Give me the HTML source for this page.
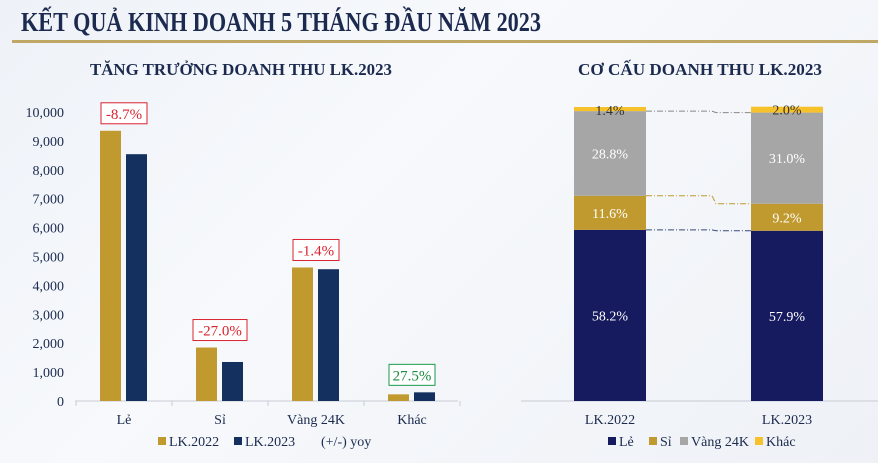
<!DOCTYPE html>
<html><head><meta charset="utf-8"><style>
html,body{margin:0;padding:0}
body{width:878px;height:463px;overflow:hidden;background:linear-gradient(135deg,#eef2f8 0%,#f7f9fc 40%,#eef1f6 100%);font-family:"Liberation Serif","Noto Serif CJK SC",serif;position:relative}
svg{position:absolute;left:0;top:0}
</style></head><body>
<svg width="878" height="463" id="svg">
<text x="21" y="31" font-size="27" font-weight="bold" fill="#1b2a4e" textLength="520" lengthAdjust="spacingAndGlyphs">KẾT QUẢ KINH DOANH 5 THÁNG ĐẦU NĂM 2023</text>
<rect x="12" y="40" width="866" height="3" fill="#bfa865"/>
<text x="90" y="75" font-size="17" font-weight="bold" fill="#1b2a4e" textLength="302" lengthAdjust="spacingAndGlyphs">TĂNG TRƯỞNG DOANH THU LK.2023</text>
<text x="578" y="75" font-size="17" font-weight="bold" fill="#1b2a4e" textLength="244" lengthAdjust="spacingAndGlyphs">CƠ CẤU DOANH THU LK.2023</text>
<g id="left"></g><g id="right"></g>
</svg>
<script>
const categories=["Lẻ","Sỉ","Vàng 24K","Khác"];
const lk2022=[9350,1850,4620,230];
const lk2023=[8540,1350,4560,300];
const yoy=["-8.7%","-27.0%","-1.4%","27.5%"];
const yTicks=[0,1000,2000,3000,4000,5000,6000,7000,8000,9000,10000];
const periods=["LK.2022","LK.2023"];
const seriesNames=["Lẻ","Sỉ","Vàng 24K","Khác"];
const shareLe=[58.2,57.9];
const shareSi=[11.6,9.2];
const shareVang=[28.8,31.0];
const shareKhac=[1.4,2.0];
const NS="http://www.w3.org/2000/svg";
function mk(p,t,a,txt){const e=document.createElementNS(NS,t);for(const k in a)e.setAttribute(k,a[k]);if(txt!=null)e.textContent=txt;p.appendChild(e);return e;}
const L=document.getElementById('left');
const y0=401,yScale=v=>y0-v*0.0289;
const cx=i=>124+i*96;
mk(L,'line',{x1:75,x2:458,y1:y0,y2:y0,stroke:'#c8ccd4','stroke-width':1});
for(let i=0;i<=4;i++){const t=mk(L,'line',{x1:76+i*96,x2:76+i*96,y1:y0,y2:y0+5,stroke:'#c8ccd4'});}
yTicks.forEach(v=>{const t=mk(L,'text',{x:64,y:yScale(v)+5,'font-size':14,'text-anchor':'end',fill:'#1b2a4e'},v.toLocaleString('en-US'));
});
categories.forEach((c,i)=>{
 const b1=mk(L,'rect',{x:cx(i)-24,y:yScale(lk2022[i]),width:21,height:y0-yScale(lk2022[i]),fill:'#c09a2e'});
 
 const b2=mk(L,'rect',{x:cx(i)+2,y:yScale(lk2023[i]),width:21,height:y0-yScale(lk2023[i]),fill:'#14305e'});
 
 const t=mk(L,'text',{x:cx(i),y:424,'font-size':14,'text-anchor':'middle',fill:'#1b2a4e'},c);
 
 const pos=!yoy[i].startsWith('-');const col=pos?'#1a9a4a':'#d9232e';
 const top=Math.min(yScale(lk2022[i]),yScale(lk2023[i]))-28;
 const w=yoy[i].length*8+6;
 const r=mk(L,'rect',{x:cx(i)-w/2,y:top,width:w,height:21,fill:'#fff',stroke:col,'stroke-width':1});
 
 const tt=mk(L,'text',{x:cx(i),y:top+16,'font-size':15,'text-anchor':'middle',fill:pos?'#1a8a40':col},yoy[i]);
 
});
// legend left
[[158,'#c09a2e','LK.2022'],[234,'#14305e','LK.2023']].forEach(([x,c,n])=>{
 const r=mk(L,'rect',{x:x,y:437,width:8,height:8,fill:c});
 const t=mk(L,'text',{x:x+11,y:446,'font-size':14,fill:'#1b2a4e'},n);
});
const ly=mk(L,'text',{x:321,y:446,'font-size':14,fill:'#1b2a4e'},'(+/-) yoy');
// right chart
const R=document.getElementById('right');
const rs=v=>v*2.94;
const bx=[574,751];
const colors=['#161a5e','#c09a2e','#a6a6a6','#f7c12c'];
const series=[shareLe,shareSi,shareVang,shareKhac];
mk(R,'line',{x1:521,x2:878,y1:y0,y2:y0,stroke:'#c8ccd4'});
const tops=[[],[]];
periods.forEach((p,j)=>{
 let base=y0;
 series.forEach((s,k)=>{
  const h=rs(s[j]);
  const r=mk(R,'rect',{x:bx[j],y:base-h,width:72,height:h,fill:colors[k]});
  
  const ty=k==3?base-h+8:base-h/2+5;
  const t=mk(R,'text',{x:bx[j]+36,y:ty,'font-size':14,'text-anchor':'middle',fill:k==3?'#333':'#fff'},s[j].toFixed(1)+'%');
  
  base-=h;tops[j].push(base);
 });
 const t=mk(R,'text',{x:bx[j]+36,y:424,'font-size':14,'text-anchor':'middle',fill:'#1b2a4e'},p);
 
});
const lc=['#3a4a7a','#c09a2e','#888','#999'];
[0,1,2].forEach(k=>{const a=tops[0][k],b=tops[1][k];
 const pl=mk(R,'polyline',{points:`646,${a} 712,${a} 716,${b} 751,${b}`,fill:'none',stroke:lc[k],'stroke-width':1,'stroke-dasharray':'6,2,1,2'});
 });
// legend right
[[608,'Lẻ'],[649,'Sỉ'],[680,'Vàng 24K'],[755,'Khác']].forEach(([x,n],k)=>{
 const r=mk(R,'rect',{x:x,y:437,width:8,height:8,fill:colors[k]});
 const t=mk(R,'text',{x:x+11,y:446,'font-size':14,fill:'#1b2a4e'},n);
});
</script>
</body></html>
